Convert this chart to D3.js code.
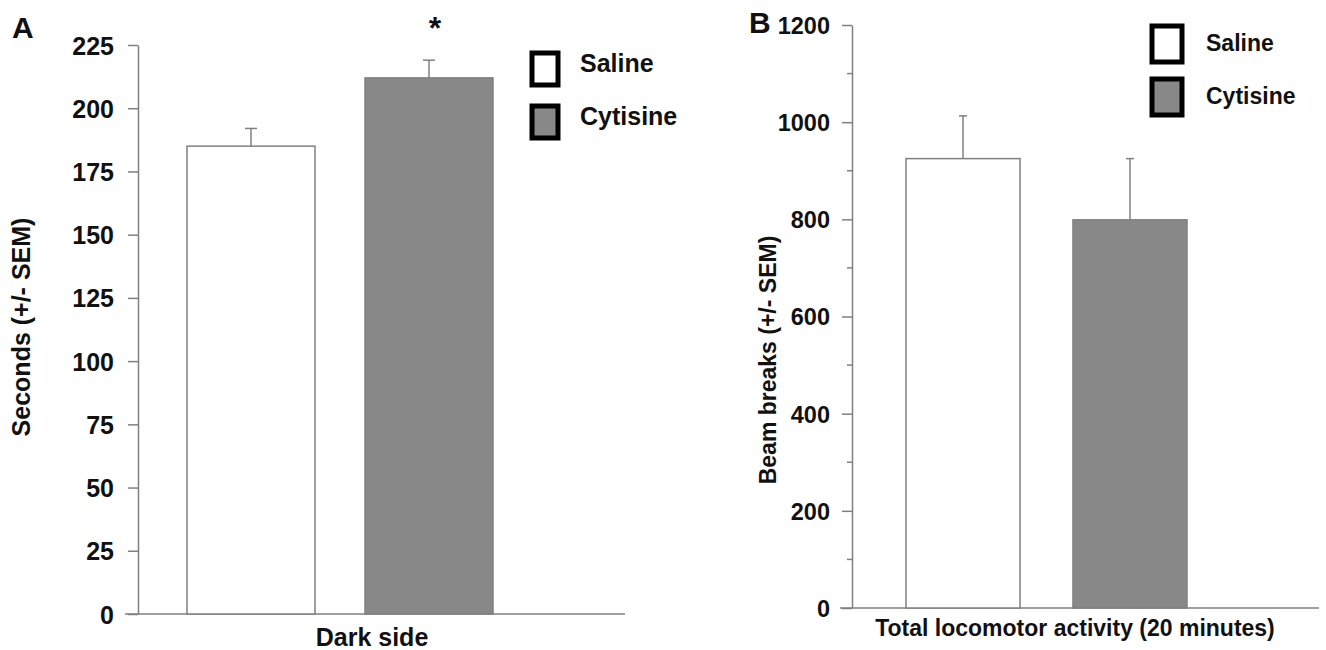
<!DOCTYPE html>
<html><head><meta charset="utf-8">
<script src="https://cdn.jsdelivr.net/npm/d3@7"></script>
<style>
body{margin:0;background:#fff;}
svg{display:block;font-family:"Liberation Sans",Arial,sans-serif;}
</style></head>
<body>
<svg id="chart" width="1326" height="650"></svg>
<script>
const groups = ["Saline", "Cytisine"];
const colors = ["#ffffff", "#888888"];
// Panel A: time in dark side (seconds)
const darkMean = [185, 212];
const darkSEM = [7, 7];
const ticksA = [0, 25, 50, 75, 100, 125, 150, 175, 200, 225];
// Panel B: locomotor activity (beam breaks)
const locoMean = [925, 799];
const locoSEM = [88, 126];
const ticksB = [0, 200, 400, 600, 800, 1000, 1200];
const minorB = [100, 300, 500, 700, 900, 1100];

const svg = d3.select("#chart");
const axisCol = "#808080";

function panel(cfg) {
  const g = svg.append("g");
  const y = d3.scaleLinear().domain(cfg.domain).range([cfg.y0, cfg.y1]);
  const x = d3.scaleBand().domain(groups).range(cfg.xr).paddingInner(cfg.pad).paddingOuter(0);

  // y axis
  const ax = g.append("g").attr("transform", `translate(${cfg.ax},0)`)
    .call(d3.axisLeft(y).tickValues(cfg.ticks).tickSize(10).tickSizeOuter(0).tickPadding(cfg.tp).tickFormat(d3.format("d")));
  ax.select(".domain").attr("stroke", axisCol).attr("stroke-width", 1.5);
  ax.selectAll(".tick line").attr("stroke", axisCol).attr("stroke-width", 1.5);
  ax.selectAll(".tick text").attr("fill", "#111").style("font-size", cfg.tfs + "px").style("font-weight", "bold").attr("dy", "0.36em");
  if (cfg.minor) {
    g.append("g").selectAll("line").data(cfg.minor).join("line")
      .attr("x1", cfg.ax - 5).attr("x2", cfg.ax).attr("y1", d => y(d)).attr("y2", d => y(d))
      .attr("stroke", axisCol).attr("stroke-width", 1.5);
  }
  // x axis baseline
  g.append("line").attr("x1", cfg.xl[0]).attr("x2", cfg.xl[1]).attr("y1", y(0)).attr("y2", y(0))
    .attr("stroke", axisCol).attr("stroke-width", 1.5);

  // bars
  g.selectAll("rect.bar").data(groups).join("rect").attr("class", "bar")
    .attr("x", d => x(d)).attr("width", x.bandwidth())
    .attr("y", (d, i) => y(cfg.mean[i])).attr("height", (d, i) => y(0) - y(cfg.mean[i]))
    .attr("fill", (d, i) => colors[i]).attr("stroke", axisCol).attr("stroke-width", 1.5);
  // error bars
  const eb = g.selectAll("g.eb").data(groups).join("g").attr("class", "eb");
  eb.append("line")
    .attr("x1", d => x(d) + x.bandwidth() / 2).attr("x2", d => x(d) + x.bandwidth() / 2)
    .attr("y1", (d, i) => y(cfg.mean[i])).attr("y2", (d, i) => y(cfg.mean[i] + cfg.sem[i]))
    .attr("stroke", axisCol).attr("stroke-width", 1.5);
  eb.append("line")
    .attr("x1", d => x(d) + x.bandwidth() / 2 - cfg.cap).attr("x2", d => x(d) + x.bandwidth() / 2 + cfg.cap)
    .attr("y1", (d, i) => y(cfg.mean[i] + cfg.sem[i])).attr("y2", (d, i) => y(cfg.mean[i] + cfg.sem[i]))
    .attr("stroke", axisCol).attr("stroke-width", 1.5);

  // labels
  g.append("text").attr("x", cfg.xlab[0]).attr("y", cfg.xlab[1]).attr("text-anchor", "middle")
    .style("font-size", cfg.fs + "px").style("font-weight", "bold").attr("fill", "#111").text(cfg.xlabel);
  g.append("text").attr("transform", `translate(${cfg.ylab[0]},${cfg.ylab[1]}) rotate(-90)`).attr("text-anchor", "middle")
    .style("font-size", cfg.fs + "px").style("font-weight", "bold").attr("fill", "#111").text(cfg.ylabel);
  g.append("text").attr("x", cfg.letter[0]).attr("y", cfg.letter[1])
    .style("font-size", "30px").style("font-weight", "bold").attr("fill", "#111").text(cfg.name);

  // legend
  const lg = g.selectAll("g.lg").data(groups).join("g").attr("class", "lg")
    .attr("transform", (d, i) => `translate(${cfg.leg[0]},${cfg.leg[1] + i * cfg.leg[2]})`);
  lg.append("rect").attr("x", 0).attr("y", 0).attr("width", cfg.box[0]).attr("height", cfg.box[1])
    .attr("fill", (d, i) => colors[i]).attr("stroke", "#000").attr("stroke-width", 5);
  lg.append("text").attr("x", cfg.box[0] + cfg.lgap).attr("y", cfg.box[1] / 2 + cfg.ldy).attr("dy", "0.1em")
    .style("font-size", cfg.fs + "px").style("font-weight", "bold").attr("fill", "#111").text(d => d);
  return {x, y, g};
}

const A = panel({
  name: "A", letter: [12, 38], domain: [0, 225], y0: 614, y1: 45, ax: 138, ticks: ticksA, tp: 14, fs: 25, tfs: 25,
  xr: [187, 493], pad: 0.281, xl: [125, 625], mean: darkMean, sem: darkSEM, cap: 6,
  xlab: [372, 646], xlabel: "Dark side", ylab: [30, 327], ylabel: "Seconds (+/- SEM)",
  leg: [532, 53, 53], box: [26, 32], lgap: 22, ldy: 0
});
// significance marker
A.g.append("text").attr("x", A.x("Cytisine") + A.x.bandwidth() / 2 + 6).attr("y", 39).attr("text-anchor", "middle")
  .style("font-size", "32px").style("font-weight", "bold").attr("fill", "#111").text("*");

panel({
  name: "B", letter: [749, 33], domain: [0, 1200], y0: 608, y1: 25, ax: 852, ticks: ticksB, minor: minorB, tp: 12, fs: 23, tfs: 23.5,
  xr: [906, 1187], pad: 0.317, xl: [840, 1319], mean: locoMean, sem: locoSEM, cap: 4,
  xlab: [1075, 636], xlabel: "Total locomotor activity (20 minutes)", ylab: [776, 360], ylabel: "Beam breaks (+/- SEM)",
  leg: [1152, 26, 53], box: [30, 36], lgap: 24, ldy: 5
});
</script>
</body></html>
